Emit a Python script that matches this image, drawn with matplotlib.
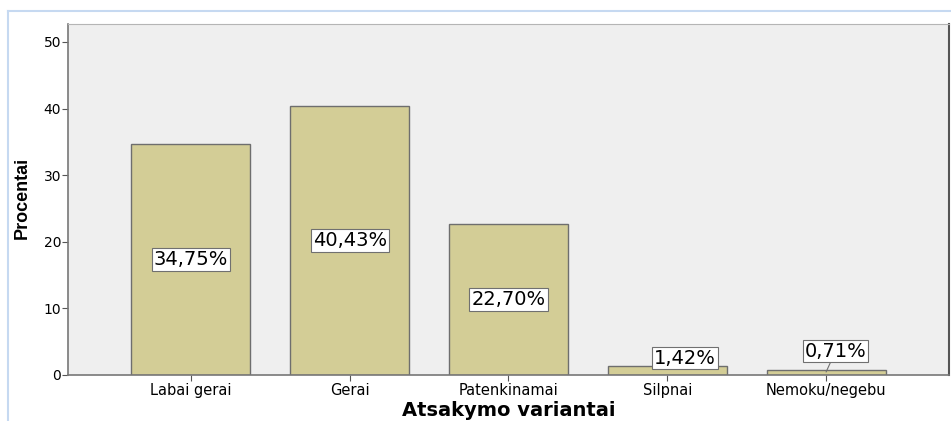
import matplotlib.pyplot as plt
import numpy as np

categories = ['Labai gerai', 'Gerai', 'Patenkinamai', 'Silpnai', 'Nemoku/negebu']
values = [34.75, 40.43, 22.70, 1.42, 0.71]
labels = ['34,75%', '40,43%', '22,70%', '1,42%', '0,71%']

plt.rcParams['font.family'] = ['DejaVu Sans']

fig = plt.figure(figsize=(9.51, 4.21), dpi=100)
ax = fig.add_axes([68 / 951, 1 - 375 / 421, 881 / 951, 351 / 421])
ax.set_facecolor('#efefef')

x = np.arange(len(categories))
ax.bar(x, values, width=0.75, color='#d3cd96', edgecolor='#6e6e6e', linewidth=1.0, zorder=2)
ax.set_xlim(-0.774, 4.774)
ax.set_ylim(0, 52.7)

box = dict(boxstyle='square,pad=0.1', facecolor='white', edgecolor='#707070', linewidth=0.8)
for i, (v, lab) in enumerate(zip(values, labels)):
    if v > 10:
        ax.text(i, v / 2, lab, ha='center', va='center', fontsize=14, bbox=box, zorder=3)
# small bars: labels placed above
ax.text(3.11, 2.55, labels[3], ha='center', va='center', fontsize=14, bbox=box, zorder=3)
ax.annotate(labels[4], xy=(4.0, 0.45), xytext=(4.06, 3.6), ha='center', va='center',
            fontsize=14, bbox=box, zorder=3,
            arrowprops=dict(arrowstyle='-', color='#707070', lw=0.8, shrinkA=0, shrinkB=0))

ax.set_yticks([0, 10, 20, 30, 40, 50])
ax.set_xticks(x)
ax.set_xticklabels(categories, fontsize=10.5)
ax.tick_params(axis='y', labelsize=10, length=4, color='#555555', width=0.8, pad=1)
ax.tick_params(axis='x', length=4, color='#555555', width=0.8, pad=2)

for side in ['left', 'bottom']:
    ax.spines[side].set_color('#777777')
    ax.spines[side].set_linewidth(1.2)
ax.spines['top'].set_color('#b5b5b5')
ax.spines['right'].set_color('#555555')
ax.spines['right'].set_linewidth(1.5)

ax.set_ylabel('Procentai', fontsize=13, fontweight='bold', family=['Liberation Sans', 'DejaVu Sans'])
ax.yaxis.set_label_coords(-0.042, 0.505)
ax.set_xlabel('Atsakymo variantai', fontsize=14, fontweight='bold', labelpad=2)

# light blue frame of the output viewer
fig.add_artist(plt.Line2D([8 / 951, 1], [1 - 11 / 421, 1 - 11 / 421], color='#c6d9f1', lw=1.5))
fig.add_artist(plt.Line2D([8 / 951, 8 / 951], [0, 1 - 11 / 421], color='#c6d9f1', lw=1.5))

fig.savefig('out.png', dpi=100)
